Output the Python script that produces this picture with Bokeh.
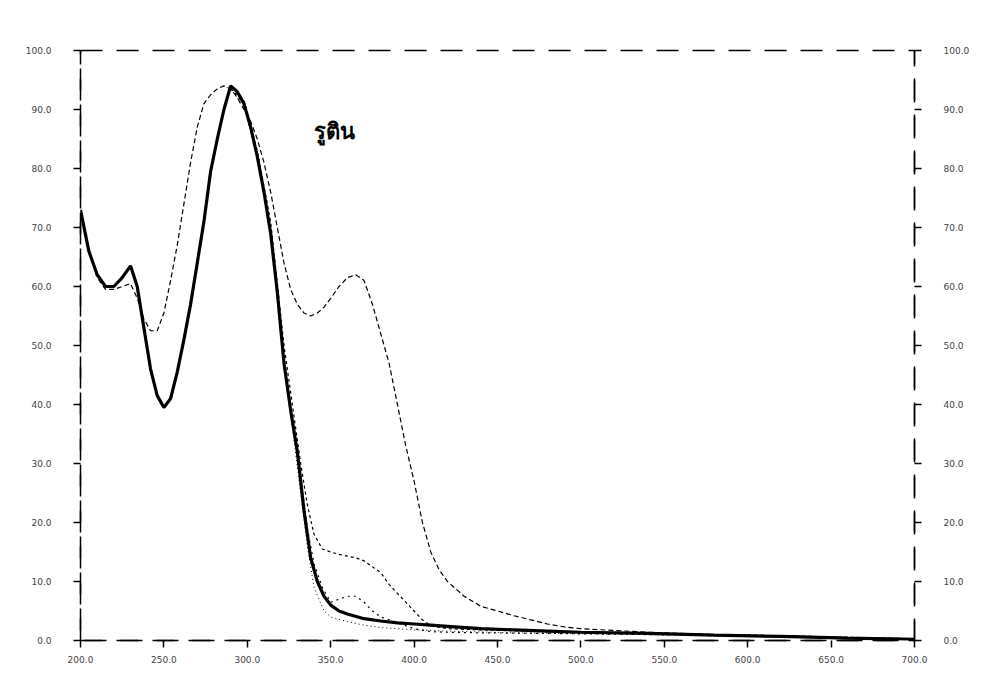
from bokeh.plotting import figure
from bokeh.models import LinearAxis, Label, FixedTicker
from bokeh.embed import file_html
from bokeh.resources import INLINE

# ---- data ----
wl_a = [200, 205, 210, 215, 220, 225, 230, 234, 238, 242, 246, 250, 254, 258, 262, 266, 270, 274, 278,
        282, 286, 290, 294, 298, 302, 306, 310, 314, 318, 322, 326, 330, 334, 338, 342, 346, 350, 355,
        360, 370, 380, 390, 400, 410, 420, 440, 460, 480, 500, 540, 580, 620, 660, 700]
abs_a = [73, 66, 62, 60, 60, 61.5, 63.5, 60, 53, 46, 41.5, 39.5, 41, 45.5, 51, 57, 64, 71, 79.5,
         85, 90, 94, 93, 91, 87, 82, 76, 69, 59, 47, 39, 32, 22, 14, 10, 7.5, 6, 5,
         4.5, 3.7, 3.3, 3, 2.8, 2.6, 2.4, 2, 1.8, 1.6, 1.4, 1.2, 0.9, 0.7, 0.4, 0.2]

wl_b = [200, 205, 210, 215, 220, 225, 230, 234, 238, 242, 246, 250, 254, 258, 262, 266, 270, 274, 278,
        282, 286, 290, 294, 298, 302, 306, 310, 314, 318, 322, 326, 330, 334, 338, 342, 346, 350, 355,
        360, 365, 370, 375, 380, 385, 390, 395, 400, 405, 410, 415, 420, 430, 440, 450, 460, 470, 480,
        490, 500, 540, 580, 620, 660, 700]
abs_b = [73, 66, 61.5, 59.5, 59.5, 60, 60.5, 58, 54.5, 52.5, 52.5, 55.5, 61, 67, 74, 81, 87, 91, 92.5,
         93.5, 94, 93.5, 92, 90, 88, 85, 81, 76, 70, 64, 59.5, 57, 55.5, 55, 55.5, 56.5, 58, 60,
         61.5, 62, 61, 57, 52, 47, 40, 33, 27, 20, 15, 12, 10, 7.5, 5.8, 5, 4.2, 3.5, 2.8,
         2.3, 2.0, 1.4, 1.0, 0.8, 0.5, 0.3]

wl_c = [290, 298, 306, 314, 322, 328, 332, 336, 340, 345, 350, 355, 360, 365, 370, 375, 380, 385,
        390, 395, 400, 405, 410, 420, 440, 480, 540, 620, 700]
abs_c = [93.5, 91.5, 83, 71, 50, 38, 30, 23, 18, 15.5, 15, 14.6, 14.3, 14, 13.5, 12.5, 11.5, 9.5,
         8, 6.5, 5, 3.5, 2.5, 2, 1.8, 1.5, 1.2, 0.8, 0.3]

wl_d = [290, 298, 306, 314, 322, 328, 332, 336, 340, 345, 350, 355, 360, 365, 370, 375, 380, 385,
        390, 400, 410, 420, 440, 480, 540, 620, 700]
abs_d = [93.5, 91, 82.5, 70, 48, 36, 28, 19, 13, 9, 6.5, 7, 7.5, 7.5, 6.5, 5, 4, 3.5,
         3, 2, 1.5, 1.4, 1.3, 1.2, 1.0, 0.7, 0.3]

wl_e = [290, 298, 306, 314, 322, 328, 332, 336, 340, 346, 350, 360, 370, 380, 390, 400, 420, 460,
        540, 620, 700]
abs_e = [93.5, 90.5, 82, 69, 47, 34, 25, 16, 9, 5, 4, 3.2, 2.6, 2.2, 2, 1.8, 1.6, 1.3,
         1.0, 0.6, 0.2]

x_ticks = [200, 250, 300, 350, 400, 450, 500, 550, 600, 650, 700]
y_ticks = [0, 10, 20, 30, 40, 50, 60, 70, 80, 90, 100]
title_text = "รูติน"

p = figure(width=994, height=695, x_range=(200, 700), y_range=(0, 100),
           output_backend="svg", toolbar_location=None,
           min_border_left=80, min_border_right=80, min_border_top=50, min_border_bottom=55,
           background_fill_color="white", border_fill_color="white")
p.xgrid.visible = False
p.ygrid.visible = False
p.outline_line_color = "black"
p.outline_line_dash = "22 14"
p.outline_line_width = 1.5

ax_r = LinearAxis()
p.add_layout(ax_r, "right")

for ax in [p.xaxis[0], p.yaxis[0], ax_r]:
    ax.axis_line_color = "black"
    ax.axis_line_dash = "22 14"
    ax.axis_line_width = 1.5
    ax.major_tick_line_color = "black"
    ax.major_tick_line_width = 1.5
    ax.major_tick_out = 7
    ax.major_tick_in = 0
    ax.minor_tick_line_color = None
    ax.major_label_text_font = "DejaVu Sans"
    ax.major_label_text_font_size = "9px"
    ax.major_label_text_color = "#444444"

p.xaxis[0].ticker = FixedTicker(ticks=x_ticks)
p.yaxis[0].ticker = FixedTicker(ticks=y_ticks)
ax_r.ticker = FixedTicker(ticks=y_ticks)
p.xaxis[0].major_label_overrides = {t: f"{t:.1f}" for t in x_ticks}
p.yaxis[0].major_label_overrides = {t: f"{t:.1f}" for t in y_ticks}
ax_r.major_label_overrides = {t: f"{t:.1f}" for t in y_ticks}
p.yaxis[0].major_label_standoff = 22
ax_r.major_label_standoff = 22
p.xaxis[0].major_label_standoff = 8

p.line(wl_b, abs_b, line_color="black", line_width=1.2, line_dash="5 3")
p.line(wl_c, abs_c, line_color="black", line_width=1.2, line_dash="3 3")
p.line(wl_d, abs_d, line_color="black", line_width=1.2, line_dash="2 4")
p.line(wl_e, abs_e, line_color="black", line_width=1.0, line_dash="1 3")
p.line(wl_a, abs_a, line_color="black", line_width=3.2)

p.add_layout(Label(x=340, y=84, text=title_text, text_font="Noto Sans",
                   text_font_style="bold", text_font_size="22px", text_color="black"))

open("out.html", "w").write(file_html(p, INLINE))
